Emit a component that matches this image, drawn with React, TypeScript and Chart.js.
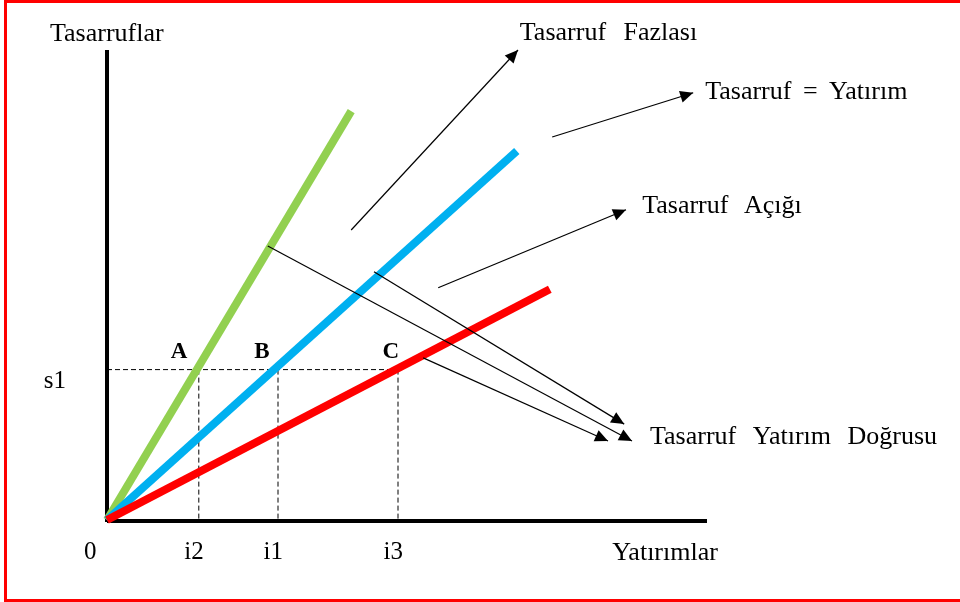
import React, { useEffect, useRef } from "react";
import { Chart, registerables } from "chart.js";

Chart.register(...registerables);

// ---- values (arbitrary diagram units) ----
const S1 = 3.2; // savings level s1
const TICK_NAMES = ["i2", "i1", "i3"];
const TICK_VALUES = [1.53, 2.85, 4.85];
const POINT_NAMES = ["A", "B", "C"];
const POINT_X = [1.2, 2.58, 4.73];
const POINT_Y = [3.57, 3.57, 3.57];

const LINE_COLORS = ["#92D050", "#00B0F0", "#FF0000"];
const LINE_END_X = [4.07, 6.83, 7.38];
const LINE_END_Y = [8.7, 7.85, 4.91];

const AXIS_X_END = 10;
const AXIS_Y_END = 10;

const ARROW_FROM_X = [4.07, 7.42, 5.52, 2.68, 4.45, 5.27];
const ARROW_FROM_Y = [6.17, 8.15, 4.94, 5.83, 5.28, 3.45];
const ARROW_TO_X = [6.85, 9.77, 8.65, 8.75, 8.62, 8.35];
const ARROW_TO_Y = [10.0, 9.09, 6.6, 1.68, 2.04, 1.68];

const NOTE_TEXTS = [
  "Tasarruflar",
  "Yatırımlar",
  "Tasarruf Fazlası",
  "Tasarruf = Yatırım",
  "Tasarruf Açığı",
  "Tasarruf Yatırım Doğrusu",
];
const NOTE_X = [-0.95, 8.42, 6.88, 9.97, 8.92, 9.05];
const NOTE_Y = [10.34, -0.7, 10.36, 9.11, 6.68, 1.77];
const NOTE_WORD_SPACING = [0, 0, 11, 5, 9, 10];

const FONT = '"Liberation Serif", "Times New Roman", serif';

const labelPlugin = {
  id: "diagramLabels",
  afterDatasetsDraw(chart: any) {
    const ctx = chart.ctx;
    const xs = chart.scales.x;
    const ys = chart.scales.y;
    const X = (v: number) => xs.getPixelForValue(v);
    const Y = (v: number) => ys.getPixelForValue(v);
    ctx.save();
    // arrow heads
    chart.data.datasets.forEach((ds: any, i: number) => {
      if (!ds.isArrow) return;
      const meta = chart.getDatasetMeta(i);
      const p0 = meta.data[0];
      const p1 = meta.data[1];
      const a = Math.atan2(p1.y - p0.y, p1.x - p0.x);
      const L = 13;
      const W = 6;
      ctx.fillStyle = "#000";
      ctx.beginPath();
      ctx.moveTo(p1.x, p1.y);
      ctx.lineTo(p1.x - L * Math.cos(a) + W * Math.sin(a), p1.y - L * Math.sin(a) - W * Math.cos(a));
      ctx.lineTo(p1.x - L * Math.cos(a) - W * Math.sin(a), p1.y - L * Math.sin(a) + W * Math.cos(a));
      ctx.closePath();
      ctx.fill();
    });

    ctx.fillStyle = "#000";
    ctx.textBaseline = "middle";
    // notes
    ctx.font = `26px ${FONT}`;
    ctx.textAlign = "left";
    NOTE_TEXTS.forEach((t, i) => {
      ctx.wordSpacing = `${NOTE_WORD_SPACING[i]}px`;
      ctx.fillText(t, X(NOTE_X[i]), Y(NOTE_Y[i]));
    });
    ctx.wordSpacing = "0px";
    // tick labels
    ctx.font = `25px ${FONT}`;
    ctx.textAlign = "center";
    ctx.fillText("0", X(-0.28), Y(-0.7));
    TICK_NAMES.forEach((t, i) => ctx.fillText(t, X(TICK_VALUES[i] - 0.08), Y(-0.7)));
    ctx.fillText("s1", X(-0.87), Y(S1 - 0.26));
    // point names
    ctx.font = `bold 23px ${FONT}`;
    POINT_NAMES.forEach((t, i) => ctx.fillText(t, X(POINT_X[i]), Y(POINT_Y[i])));
    ctx.restore();
  },
};

export default function App() {
  const ref = useRef<HTMLCanvasElement | null>(null);
  useEffect(() => {
    if (!ref.current) return;
    const datasets: any[] = [];
    // arrows (top)
    ARROW_FROM_X.forEach((_, i) => {
      datasets.push({
        data: [
          { x: ARROW_FROM_X[i], y: ARROW_FROM_Y[i] },
          { x: ARROW_TO_X[i], y: ARROW_TO_Y[i] },
        ],
        borderColor: "#000",
        borderWidth: 1.2,
        isArrow: true,
        order: 1,
      });
    });
    // dashed guide lines
    datasets.push({
      data: [
        { x: 0, y: S1 },
        { x: TICK_VALUES[2], y: S1 },
      ],
      borderColor: "#000",
      borderWidth: 1,
      borderDash: [5, 3],
      order: 3,
    });
    TICK_VALUES.forEach((v) => {
      datasets.push({
        data: [
          { x: v, y: S1 },
          { x: v, y: 0 },
        ],
        borderColor: "#000",
        borderWidth: 1,
        borderDash: [5, 3],
        order: 3,
      });
    });
    // colored lines
    LINE_COLORS.forEach((c, i) => {
      datasets.push({
        data: [
          { x: 0, y: 0 },
          { x: LINE_END_X[i], y: LINE_END_Y[i] },
        ],
        borderColor: c,
        borderWidth: 8,
        borderCapStyle: "butt",
        order: 2 + (3 - i) * 0.1,
      });
    });
    // axes
    datasets.push({
      data: [
        { x: 0, y: -0.04 },
        { x: 0, y: AXIS_Y_END },
      ],
      borderColor: "#000",
      borderWidth: 4,
      order: 5,
    });
    datasets.push({
      data: [
        { x: 0, y: -0.02 },
        { x: AXIS_X_END, y: -0.02 },
      ],
      borderColor: "#000",
      borderWidth: 4,
      order: 5,
    });

    const chart = new Chart(ref.current, {
      type: "scatter",
      data: { datasets },
      options: {
        animation: false,
        responsive: false,
        devicePixelRatio: 1,
        events: [],
        layout: { padding: 0 },
        datasets: { scatter: { showLine: true, pointRadius: 0, fill: false } } as any,
        elements: { point: { radius: 0 }, line: { tension: 0 } },
        plugins: { legend: { display: false }, tooltip: { enabled: false }, title: { display: false } },
        scales: {
          x: { type: "linear", display: false, min: -107 / 60, max: -107 / 60 + 16 },
          y: { type: "linear", display: false, min: 520 / 47 - 602 / 47, max: 520 / 47 },
        },
      },
      plugins: [labelPlugin],
    });
    return () => chart.destroy();
  }, []);

  return (
    <div style={{ position: "absolute", left: 0, top: 0, width: 960, height: 602, background: "#fff", overflow: "hidden" }}>
      <canvas ref={ref} width={960} height={602} style={{ position: "absolute", left: 0, top: 0 }} />
      <div
        style={{
          position: "absolute",
          left: 4,
          top: 0,
          width: 980,
          height: 596,
          borderTop: "3px solid #FF0000",
          borderLeft: "3px solid #FF0000",
          borderBottom: "3px solid #FF0000",
          pointerEvents: "none",
        }}
      />
    </div>
  );
}
